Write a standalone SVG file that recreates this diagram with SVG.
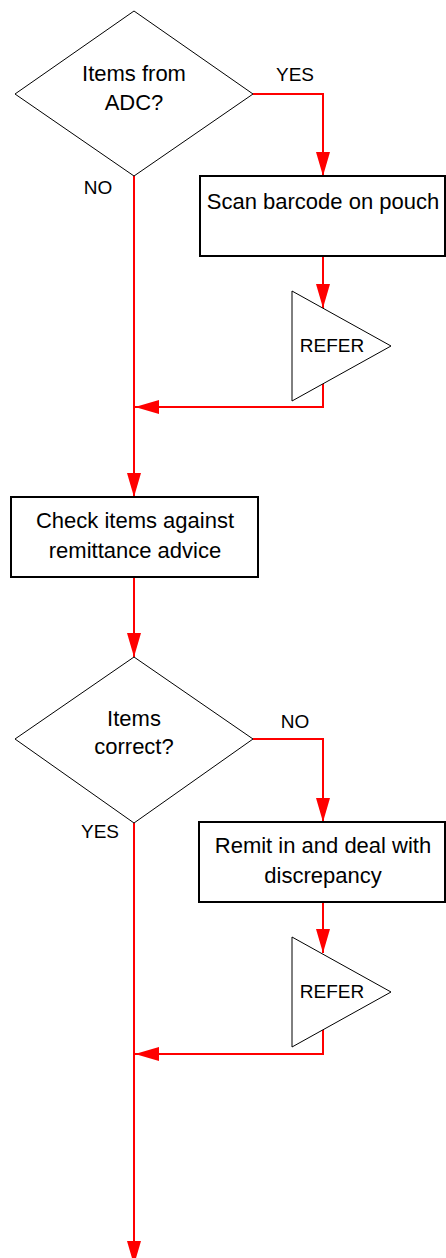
<svg xmlns="http://www.w3.org/2000/svg" width="446" height="1258" viewBox="0 0 446 1258">
  <style>
    .shape { fill: #ffffff; stroke: #000000; stroke-width: 1; }
    .box { fill: #ffffff; stroke: #000000; stroke-width: 2; }
    .flow { fill: none; stroke: #ff0000; stroke-width: 2; marker-end: url(#arrow); }
    text { font-family: "Liberation Sans", Arial, sans-serif; fill: #000000; text-anchor: middle; }
    .body { font-size: 22px; }
    .tag { font-size: 19px; }
  </style>
  <defs>
    <marker id="arrow" markerUnits="userSpaceOnUse" markerWidth="26" markerHeight="16" refX="24" refY="7" orient="auto">
      <path d="M0,0 L24,7 L0,14 z" fill="#ff0000"/>
    </marker>
  </defs>

  <rect width="446" height="1258" fill="#ffffff"/>

  <!-- connectors -->
  <g id="connectors">
    <polyline class="flow" points="253,94 323,94 323,176"/>
    <polyline class="flow" points="323,256 323,308"/>
    <polyline class="flow" points="323,384 323,407 135,407"/>
    <polyline class="flow" points="134,176 134,497"/>
    <polyline class="flow" points="134,577 134,657"/>
    <polyline class="flow" points="253,739 323,739 323,822"/>
    <polyline class="flow" points="323,902 323,953"/>
    <polyline class="flow" points="323,1029 323,1054 135,1054"/>
    <polyline class="flow" points="134,823 134,1265"/>
  </g>

  <!-- decision: items from ADC -->
  <g id="decision-adc">
    <polygon class="shape" points="134,11 253,94 134,176 15,94"/>
    <text class="body" x="134" y="81">Items from</text>
    <text class="body" x="134" y="110">ADC?</text>
    <text class="tag" x="295" y="81">YES</text>
    <text class="tag" x="98" y="194">NO</text>
  </g>

  <!-- scan barcode -->
  <g id="scan-barcode">
    <rect class="box" x="200" y="176" width="245" height="80"/>
    <text class="body" x="323" y="209">Scan barcode on pouch</text>
  </g>

  <!-- refer 1 -->
  <g id="refer-1">
    <polygon class="shape" points="292,291 391,346 292,401"/>
    <text class="tag" x="332" y="352">REFER</text>
  </g>

  <!-- check items -->
  <g id="check-items">
    <rect class="box" x="11" y="497" width="247" height="80"/>
    <text class="body" x="135" y="528">Check items against</text>
    <text class="body" x="135" y="558">remittance advice</text>
  </g>

  <!-- decision: items correct -->
  <g id="decision-correct">
    <polygon class="shape" points="134,657 253,739 134,823 15,739"/>
    <text class="body" x="134" y="726">Items</text>
    <text class="body" x="134" y="754">correct?</text>
    <text class="tag" x="295" y="728">NO</text>
    <text class="tag" x="100" y="838">YES</text>
  </g>

  <!-- remit in -->
  <g id="remit-in">
    <rect class="box" x="199" y="822" width="246" height="80"/>
    <text class="body" x="323" y="853">Remit in and deal with</text>
    <text class="body" x="323" y="883">discrepancy</text>
  </g>

  <!-- refer 2 -->
  <g id="refer-2">
    <polygon class="shape" points="292,937 391,992 292,1047"/>
    <text class="tag" x="332" y="998">REFER</text>
  </g>
</svg>
